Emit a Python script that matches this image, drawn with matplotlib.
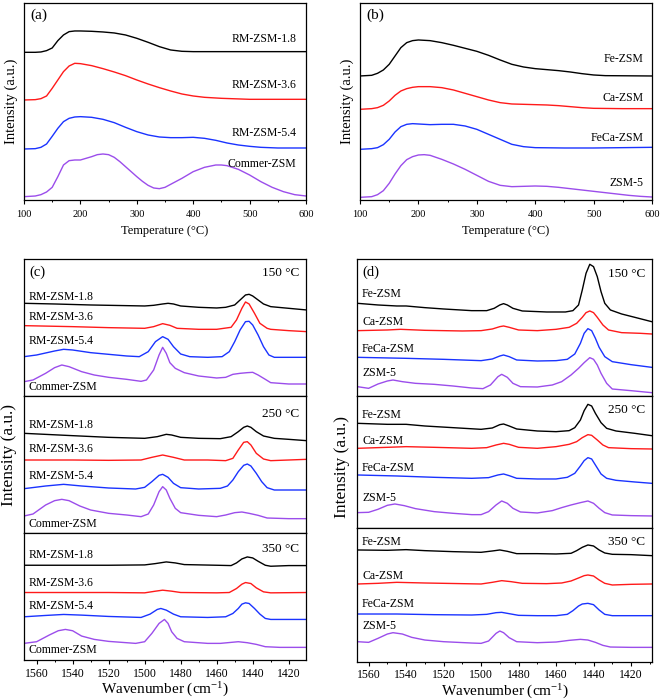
import matplotlib
matplotlib.use('Agg')

import matplotlib.pyplot as plt
from matplotlib.ticker import MultipleLocator

plt.rcParams['font.family'] = ['Liberation Serif', 'DejaVu Serif']
plt.rcParams['mathtext.fontset'] = 'custom'
plt.rcParams['mathtext.rm'] = 'Liberation Serif'
plt.rcParams['mathtext.it'] = 'Liberation Serif:italic'

COLORS = ['black', '#FF1A1A', '#1A33FF', '#9B4DEB']

# ---------------- TPD data (a), (b): height above each curve's own baseline ----------------
rm18_T = [100, 120, 130, 140, 150, 160, 170, 180, 190, 200, 220, 240, 260, 280, 300, 320, 340, 360, 380, 400, 450, 500, 600]
rm18_I = [0, 0, 1, 5, 13, 35, 52, 62, 64, 64, 63, 61, 58, 52, 42, 30, 17, 7, 3, 2, 2, 2, 2]
rm36_T = [100, 120, 130, 140, 150, 160, 170, 180, 190, 200, 220, 240, 260, 280, 300, 320, 340, 360, 380, 400, 420, 450, 500, 550, 600]
rm36_I = [0, 1, 4, 12, 35, 60, 85, 102, 110, 109, 103, 94, 84, 73, 60, 48, 37, 27, 18, 12, 8, 5, 2, 2, 2]
rm54_T = [100, 120, 130, 140, 150, 160, 170, 180, 190, 200, 220, 240, 260, 280, 300, 320, 340, 360, 380, 400, 420, 440, 460, 480, 500, 520, 550, 600]
rm54_I = [0, 1, 5, 15, 38, 62, 82, 92, 96, 97, 95, 89, 79, 65, 52, 42, 36, 34, 34, 35, 32, 26, 18, 12, 8, 5, 3, 3]
commer_T = [100, 120, 130, 140, 150, 160, 170, 180, 190, 200, 210, 220, 230, 240, 250, 260, 270, 280, 290, 300, 310, 320, 330, 340, 350, 360, 370, 380, 390, 400, 420, 440, 450, 460, 480, 500, 520, 540, 560, 580, 600]
commer_I = [0, 2, 6, 14, 28, 60, 95, 108, 110, 110, 115, 120, 126, 128, 126, 118, 105, 90, 75, 60, 46, 34, 26, 24, 28, 37, 46, 55, 65, 75, 88, 95, 95, 93, 82, 65, 45, 28, 15, 6, 2]

fe_T = [100, 120, 130, 140, 150, 160, 170, 180, 190, 200, 220, 240, 260, 280, 300, 320, 340, 360, 380, 400, 420, 440, 460, 480, 500, 520, 600]
fe_I = [0, 2, 8, 18, 35, 60, 85, 100, 106, 108, 106, 100, 92, 83, 74, 62, 48, 35, 27, 22, 19, 16, 12, 7, 3, 1, 0]
ca_T = [100, 120, 130, 140, 150, 160, 170, 180, 190, 200, 220, 240, 260, 280, 300, 320, 340, 360, 380, 400, 420, 440, 460, 480, 500, 550, 600]
ca_I = [0, 2, 5, 12, 25, 42, 55, 62, 66, 68, 68, 65, 58, 48, 38, 28, 20, 16, 15, 14, 13, 11, 8, 5, 3, 2, 2]
feca_T = [100, 120, 130, 140, 150, 160, 170, 180, 190, 200, 220, 240, 260, 280, 300, 320, 340, 360, 380, 400, 450, 500, 600]
feca_I = [0, 2, 5, 14, 30, 52, 68, 75, 77, 76, 74, 75, 75, 70, 60, 45, 30, 15, 8, 5, 4, 4, 6]
zsm_T = [100, 120, 130, 140, 150, 160, 170, 180, 190, 200, 210, 220, 240, 260, 280, 300, 320, 340, 360, 380, 400, 420, 440, 460, 480, 500, 520, 540, 560, 580, 600]
zsm_I = [0, 2, 8, 20, 42, 70, 95, 113, 122, 127, 128, 126, 114, 100, 84, 66, 48, 36, 32, 33, 34, 33, 30, 26, 22, 18, 14, 10, 6, 3, 1]

labels_a = ['RM-ZSM-1.8', 'RM-ZSM-3.6', 'RM-ZSM-5.4', 'Commer-ZSM']
labels_b = ['Fe-ZSM', 'Ca-ZSM', 'FeCa-ZSM', 'ZSM-5']

# ---------------- FTIR data (c): per temperature, per sample ----------------
c150_rm18_w = [1567, 1550, 1530, 1510, 1500, 1495, 1490, 1487, 1484, 1480, 1470, 1460, 1455, 1450, 1447, 1444, 1442, 1440, 1437, 1434, 1430, 1420, 1410]
c150_rm18_i = [278, 276, 273, 271, 270, 272, 276, 278, 276, 270, 266, 264, 266, 273, 288, 303, 305, 300, 288, 276, 268, 263, 258]
c150_rm36_w = [1567, 1540, 1520, 1500, 1495, 1490, 1486, 1482, 1470, 1460, 1452, 1449, 1446, 1444, 1442, 1439, 1436, 1432, 1430, 1420, 1410]
c150_rm36_i = [211, 208, 205, 203, 208, 217, 212, 203, 200, 200, 206, 228, 263, 282, 276, 248, 218, 203, 200, 196, 193]
c150_rm54_w = [1567, 1560, 1550, 1545, 1540, 1530, 1520, 1510, 1503, 1498, 1494, 1490, 1487, 1484, 1480, 1475, 1465, 1457, 1453, 1450, 1447, 1444, 1442, 1440, 1437, 1434, 1431, 1428, 1420, 1410]
c150_rm54_i = [118, 123, 135, 140, 138, 130, 125, 120, 118, 133, 163, 178, 170, 148, 126, 118, 116, 118, 133, 163, 198, 223, 224, 213, 183, 148, 123, 116, 116, 116]
c150_com_w = [1567, 1562, 1555, 1550, 1546, 1542, 1535, 1528, 1520, 1510, 1502, 1499, 1495, 1492, 1490, 1488, 1486, 1483, 1478, 1470, 1460, 1455, 1451, 1447, 1443, 1440, 1437, 1433, 1430, 1420, 1410]
c150_com_i = [43, 48, 68, 85, 93, 88, 73, 63, 56, 50, 44, 48, 78, 123, 146, 128, 100, 83, 70, 60, 54, 56, 65, 68, 70, 71, 63, 50, 40, 36, 36]

c250_rm18_w = [1567, 1540, 1520, 1500, 1493, 1488, 1485, 1480, 1470, 1458, 1452, 1448, 1445, 1443, 1441, 1438, 1434, 1428, 1420, 1410]
c250_rm18_i = [299, 292, 287, 284, 289, 296, 294, 287, 284, 283, 289, 304, 317, 321, 317, 304, 291, 284, 281, 277]
c250_rm36_w = [1567, 1540, 1520, 1502, 1496, 1490, 1484, 1478, 1465, 1455, 1451, 1448, 1445, 1443, 1441, 1438, 1434, 1430, 1420, 1410]
c250_rm36_i = [219, 219, 218, 219, 227, 234, 227, 219, 219, 217, 224, 249, 272, 274, 264, 239, 222, 217, 219, 221]
c250_rm54_w = [1567, 1555, 1545, 1535, 1520, 1505, 1500, 1496, 1492, 1490, 1487, 1484, 1480, 1470, 1458, 1454, 1451, 1448, 1445, 1443, 1441, 1438, 1435, 1432, 1428, 1410]
c250_rm54_i = [133, 141, 146, 141, 135, 132, 137, 154, 173, 176, 167, 149, 136, 132, 134, 141, 159, 184, 203, 207, 201, 179, 154, 136, 129, 129]
c250_com_w = [1567, 1562, 1555, 1550, 1546, 1542, 1536, 1530, 1520, 1510, 1502, 1498, 1495, 1492, 1490, 1488, 1486, 1483, 1480, 1470, 1460, 1455, 1450, 1446, 1442, 1437, 1432, 1420, 1410]
c250_com_i = [51, 57, 84, 97, 101, 97, 81, 69, 59, 54, 49, 57, 84, 124, 139, 129, 104, 74, 61, 53, 49, 54, 61, 63, 59, 53, 45, 43, 43]

c350_rm18_w = [1567, 1520, 1500, 1494, 1488, 1483, 1478, 1460, 1452, 1449, 1446, 1443, 1440, 1437, 1433, 1430, 1420, 1410]
c350_rm18_i = [285, 285, 286, 290, 295, 292, 287, 285, 284, 292, 304, 310, 307, 297, 285, 282, 284, 284]
c350_rm36_w = [1567, 1520, 1500, 1494, 1490, 1485, 1480, 1460, 1453, 1449, 1446, 1444, 1441, 1438, 1434, 1430, 1410]
c350_rm36_i = [203, 203, 202, 207, 210, 207, 203, 202, 203, 215, 228, 233, 230, 217, 205, 202, 203]
c350_rm54_w = [1567, 1555, 1545, 1535, 1520, 1502, 1497, 1493, 1491, 1488, 1484, 1480, 1465, 1455, 1451, 1448, 1446, 1444, 1442, 1439, 1436, 1433, 1430, 1410]
c350_rm54_i = [130, 134, 137, 135, 131, 128, 138, 152, 155, 150, 138, 130, 128, 130, 140, 155, 168, 172, 170, 155, 138, 125, 122, 122]
c350_com_w = [1567, 1560, 1553, 1548, 1544, 1540, 1535, 1528, 1520, 1505, 1500, 1496, 1492, 1489, 1487, 1485, 1482, 1478, 1465, 1458, 1452, 1448, 1443, 1438, 1433, 1425, 1410]
c350_com_i = [50, 55, 75, 88, 92, 88, 72, 62, 56, 50, 55, 80, 110, 122, 110, 85, 65, 55, 50, 50, 53, 55, 52, 47, 40, 38, 38]

# ---------------- FTIR data (d) ----------------
d150_fe_w = [1566, 1555, 1545, 1540, 1530, 1520, 1505, 1497, 1493, 1490, 1488, 1486, 1483, 1478, 1465, 1455, 1451, 1448, 1446, 1444, 1442, 1440, 1438, 1436, 1434, 1431, 1425, 1418, 1409]
d150_fe_i = [278, 273, 270, 270, 265, 261, 256, 256, 263, 273, 277, 273, 263, 255, 252, 252, 256, 273, 318, 368, 395, 388, 358, 313, 278, 258, 246, 236, 223]
d150_ca_w = [1566, 1550, 1543, 1530, 1510, 1500, 1494, 1490, 1488, 1485, 1480, 1470, 1460, 1453, 1449, 1446, 1444, 1442, 1440, 1438, 1435, 1432, 1425, 1415, 1409]
d150_ca_i = [196, 198, 200, 197, 195, 196, 201, 208, 210, 206, 198, 196, 200, 206, 218, 236, 250, 255, 250, 236, 213, 198, 190, 188, 186]
d150_feca_w = [1566, 1540, 1520, 1500, 1494, 1490, 1488, 1485, 1481, 1470, 1460, 1454, 1450, 1447, 1445, 1443, 1441, 1439, 1437, 1434, 1430, 1420, 1409]
d150_feca_i = [116, 113, 110, 106, 111, 120, 123, 118, 108, 105, 106, 110, 126, 158, 188, 202, 196, 173, 146, 118, 103, 94, 86]
d150_zsm_w = [1566, 1560, 1555, 1550, 1547, 1542, 1535, 1525, 1515, 1505, 1499, 1495, 1491, 1489, 1486, 1483, 1479, 1470, 1462, 1457, 1452, 1448, 1445, 1442, 1440, 1438, 1436, 1433, 1430, 1420, 1409]
d150_zsm_i = [28, 23, 36, 45, 48, 43, 38, 35, 30, 24, 22, 33, 58, 65, 56, 38, 28, 27, 33, 43, 63, 83, 100, 115, 110, 93, 68, 38, 21, 16, 10]

d250_fe_w = [1566, 1550, 1540, 1530, 1515, 1500, 1494, 1490, 1488, 1485, 1481, 1470, 1460, 1453, 1450, 1447, 1445, 1443, 1441, 1439, 1436, 1433, 1428, 1418, 1409]
d250_fe_i = [315, 312, 312, 307, 302, 297, 301, 311, 313, 307, 298, 292, 290, 293, 302, 325, 353, 372, 367, 345, 317, 300, 292, 285, 278]
d250_ca_w = [1566, 1550, 1540, 1525, 1505, 1497, 1492, 1488, 1485, 1480, 1470, 1460, 1453, 1449, 1446, 1443, 1441, 1438, 1435, 1432, 1420, 1409]
d250_ca_i = [240, 243, 245, 243, 240, 242, 250, 255, 252, 243, 240, 245, 252, 260, 272, 281, 279, 265, 250, 242, 239, 238]
d250_feca_w = [1566, 1545, 1525, 1505, 1496, 1491, 1488, 1485, 1481, 1470, 1460, 1454, 1450, 1447, 1445, 1443, 1441, 1439, 1436, 1433, 1428, 1418, 1409]
d250_feca_i = [160, 157, 153, 150, 152, 160, 163, 158, 150, 148, 148, 153, 165, 187, 203, 212, 208, 190, 163, 150, 144, 139, 135]
d250_zsm_w = [1566, 1560, 1555, 1550, 1546, 1541, 1535, 1525, 1515, 1505, 1500, 1496, 1492, 1489, 1486, 1483, 1479, 1470, 1462, 1457, 1452, 1447, 1443, 1440, 1437, 1434, 1430, 1420, 1409]
d250_zsm_i = [47, 48, 57, 69, 73, 68, 59, 50, 45, 41, 41, 50, 70, 82, 75, 60, 49, 46, 53, 62, 70, 77, 82, 75, 60, 47, 40, 38, 37]

d350_fe_w = [1566, 1550, 1540, 1530, 1515, 1500, 1494, 1490, 1486, 1481, 1470, 1460, 1452, 1449, 1446, 1443, 1440, 1437, 1434, 1430, 1420, 1409]
d350_fe_i = [335, 334, 336, 333, 330, 328, 332, 335, 331, 324, 324, 323, 325, 333, 343, 350, 347, 335, 326, 322, 321, 318]
d350_ca_w = [1566, 1555, 1545, 1530, 1510, 1500, 1494, 1489, 1484, 1478, 1465, 1457, 1452, 1448, 1445, 1443, 1440, 1437, 1434, 1430, 1420, 1409]
d350_ca_i = [233, 235, 238, 236, 234, 233, 238, 243, 240, 235, 234, 236, 242, 251, 258, 260, 257, 245, 235, 230, 232, 233]
d350_feca_w = [1566, 1545, 1525, 1505, 1497, 1492, 1489, 1485, 1480, 1470, 1460, 1454, 1451, 1448, 1446, 1443, 1440, 1437, 1434, 1430, 1409]
d350_feca_i = [143, 143, 141, 140, 142, 147, 148, 144, 139, 138, 138, 142, 153, 167, 173, 175, 171, 155, 142, 138, 138]
d350_zsm_w = [1566, 1560, 1555, 1550, 1547, 1542, 1537, 1530, 1520, 1505, 1500, 1496, 1492, 1490, 1488, 1485, 1481, 1470, 1460, 1453, 1447, 1443, 1439, 1435, 1431, 1420, 1409]
d350_zsm_i = [60, 58, 70, 83, 87, 83, 73, 65, 60, 56, 55, 62, 85, 92, 87, 72, 60, 57, 59, 64, 67, 65, 58, 49, 44, 43, 43]

temps = ['150 °C', '250 °C', '350 °C']

W, H = 661, 700
fig = plt.figure(figsize=(W / 100, H / 100), dpi=100)


def px_rect(left, top, right, bottom):
    """Pixel box -> figure fraction rect"""
    return [left / W, 1 - bottom / H, (right - left) / W, (bottom - top) / H]


def style_frame(ax, bottom_ticks=True, labelsize=7.5, pad=4.5):
    for s in ax.spines.values():
        s.set_linewidth(0.9)
    ax.set_yticks([])
    if bottom_ticks:
        ax.tick_params(axis='x', which='major', direction='out', length=3, width=0.8,
                       labelsize=labelsize, pad=pad, top=False)
        ax.tick_params(axis='x', which='minor', direction='out', length=1.5, width=0.7, top=False)
    else:
        ax.set_xticks([])
        ax.tick_params(axis='x', which='both', bottom=False, top=False, labelbottom=False)


# ---------------- (a) and (b) ----------------
tpd_panels = [
    ([(rm18_T, rm18_I), (rm36_T, rm36_I), (rm54_T, rm54_I), (commer_T, commer_I)], labels_a,
     px_rect(24, 3.3, 306, 200), '(a)', [443, 300, 153, 10], [482, 345, 200, 108], 583),
    ([(fe_T, fe_I), (ca_T, ca_I), (feca_T, feca_I), (zsm_T, zsm_I)], labels_b,
     px_rect(360, 3.3, 652, 200), '(b)', [372, 272, 152, 8], [422, 305, 185, 52], 586),
]
for series, labels, rect, tag, offsets, label_y, label_x in tpd_panels:
    ax = fig.add_axes(rect)
    for (x, y), lab, off, ly, col in zip(series, labels, offsets, label_y, COLORS):
        ax.plot(x, [v + off for v in y], color=col, lw=1.0)
        ax.text(label_x, ly, lab, ha='right', va='center', fontsize=8.5)
    ax.set_xlim(100, 600)
    ax.set_ylim(0, 590)
    ax.xaxis.set_major_locator(MultipleLocator(100))
    ax.xaxis.set_minor_locator(MultipleLocator(50))
    style_frame(ax)
    ax.text(111, 555, tag, ha='left', va='center', fontsize=11)
    ax.set_xlabel('Temperature (°C)', fontsize=9, labelpad=4)
    ax.set_ylabel('Intensity (a.u.)', fontsize=10.5, labelpad=4)

# ---------------- (c) and (d) ----------------
c_data = [
    [(c150_rm18_w, c150_rm18_i), (c150_rm36_w, c150_rm36_i), (c150_rm54_w, c150_rm54_i), (c150_com_w, c150_com_i)],
    [(c250_rm18_w, c250_rm18_i), (c250_rm36_w, c250_rm36_i), (c250_rm54_w, c250_rm54_i), (c250_com_w, c250_com_i)],
    [(c350_rm18_w, c350_rm18_i), (c350_rm36_w, c350_rm36_i), (c350_rm54_w, c350_rm54_i), (c350_com_w, c350_com_i)],
]
d_data = [
    [(d150_fe_w, d150_fe_i), (d150_ca_w, d150_ca_i), (d150_feca_w, d150_feca_i), (d150_zsm_w, d150_zsm_i)],
    [(d250_fe_w, d250_fe_i), (d250_ca_w, d250_ca_i), (d250_feca_w, d250_feca_i), (d250_zsm_w, d250_zsm_i)],
    [(d350_fe_w, d350_fe_i), (d350_ca_w, d350_ca_i), (d350_feca_w, d350_feca_i), (d350_zsm_w, d350_zsm_i)],
]

ir_panels = [
    (c_data, labels_a, 24, 306, [259.3, 396, 533, 660], [410, 411, 382], (1567, 1410.4), '(c)',
     [[298, 238, 166, 28], [324, 252, 171, 27], [317, 232, 162, 30]], [368, 357, 335], 1564.6, 1414.2, 9, 455),
    (d_data, labels_b, 357, 652, [259.3, 396, 528.3, 661.7], [410, 397, 400], (1566.2, 1408.8), '(d)',
     [[306, 223, 140, 68], [340, 263, 180, 90], [360, 257, 173, 107]], [365, 355, 360], 1563.5, 1412.3, 342.5, 467),
]
for (data, labels, left, right, edges, heights, xlim, tag, label_y, temp_y,
     lab_x, temp_x, ylab_x, ylab_y) in ir_panels:
    for k in range(3):
        ax = fig.add_axes(px_rect(left, edges[k], right, edges[k + 1]))
        for (w, i), lab, ly, col in zip(data[k], labels, label_y[k], COLORS):
            ax.plot(w, i, color=col, lw=1.0)
            ax.text(lab_x, ly, lab, ha='left', va='center', fontsize=8.5)
        ax.text(temp_x, temp_y[k], temps[k], ha='right', va='center', fontsize=9.5)
        ax.set_xlim(*xlim)
        ax.set_ylim(0, heights[k])
        last = k == 2
        if last:
            ax.xaxis.set_major_locator(MultipleLocator(20))
            ax.xaxis.set_minor_locator(MultipleLocator(10))
        style_frame(ax, bottom_ticks=last, labelsize=8.5, pad=2.5)
        if last:
            ax.set_xlabel('Wavenumber (cm$^{-1}$)', fontsize=11, labelpad=1)
        if k == 0:
            ax.text(xlim[0] - 3, 371, tag, ha='left', va='center', fontsize=10.5)
    fig.text(ylab_x / W, 1 - ylab_y / H, 'Intensity (a.u.)', rotation=90,
             ha='center', va='center', fontsize=12.5)

fig.savefig('out.png', dpi=100)
